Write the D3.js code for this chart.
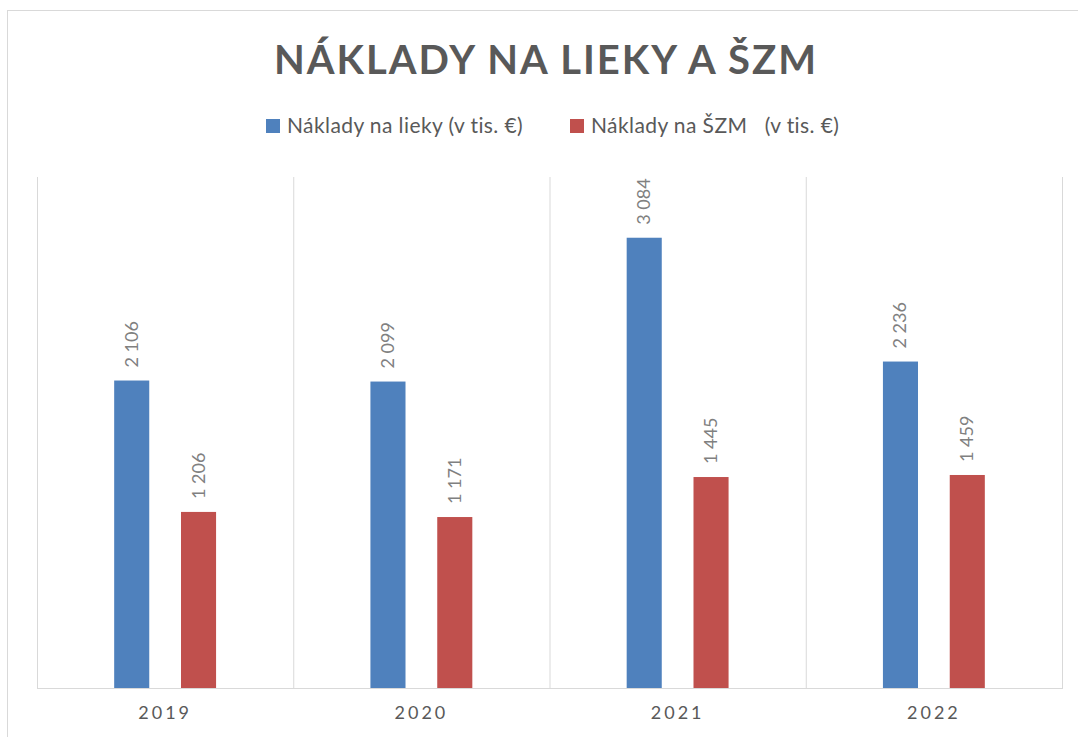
<!DOCTYPE html>
<html>
<head>
<meta charset="utf-8">
<script src="https://cdn.jsdelivr.net/npm/d3@7"></script>
<style>
  body { margin: 0; background: #fff; }
  svg { display: block; font-family: Lato, "Open Sans", sans-serif; }
</style>
</head>
<body>
<div id="chart"></div>
<script>
// data
var years = ['2019', '2020', '2021', '2022'];
var lieky = [2106, 2099, 3084, 2236];
var szm = [1206, 1171, 1445, 1459];
var seriesNames = ['Náklady na lieky (v tis. €)', 'Náklady na ŠZM   (v tis. €)'];
var seriesColors = ['#4f81bd', '#c0504d'];

var W = 1078, H = 737;
var plot = {left: 37, right: 1062, top: 177, bottom: 688};

var svg = d3.select('#chart').append('svg')
    .attr('width', W)
    .attr('height', H);

// outer frame
svg.append('rect')
    .attr('x', 7.5).attr('y', 10.5)
    .attr('width', W + 20).attr('height', H + 20)
    .attr('fill', 'none')
    .attr('stroke', '#d9d9d9');

// title
svg.append('text')
    .attr('x', 546).attr('y', 74)
    .attr('text-anchor', 'middle')
    .attr('font-size', 40)
    .attr('font-weight', 'bold')
    .attr('letter-spacing', 2)
    .attr('fill', '#595959')
    .text('NÁKLADY NA LIEKY A ŠZM');

// legend
var legendX = [266, 570];
var legend = svg.selectAll('g.legend')
    .data(seriesNames)
    .enter().append('g')
    .attr('class', 'legend')
    .attr('transform', function(d, i) { return 'translate(' + legendX[i] + ',119)'; });
legend.append('rect')
    .attr('width', 14).attr('height', 14)
    .attr('fill', function(d, i) { return seriesColors[i]; });
legend.append('text')
    .attr('x', 21).attr('y', 14)
    .attr('font-size', 21)
    .attr('letter-spacing', 0.4)
    .attr('fill', '#595959')
    .style('white-space', 'pre')
    .text(function(d) { return d; });

// scales
var x = d3.scaleBand().domain(years).range([plot.left, plot.right]);
var y = d3.scaleLinear().domain([0, 3500]).range([plot.bottom, plot.top]);
var xs = d3.scaleBand().domain([0, 1]).range([0, x.bandwidth()]).paddingInner(0.475).paddingOuter(1.155);

var fmt = d3.formatLocale({decimal: ',', thousands: ' ', grouping: [3], currency: ['', '€']}).format(',d');

// vertical gridlines between categories
var bounds = years.map(function(d) { return x(d); }).concat([plot.right]);
svg.selectAll('line.grid')
    .data(bounds)
    .enter().append('line')
    .attr('class', 'grid')
    .attr('x1', function(d) { return d + 0.5; })
    .attr('x2', function(d) { return d + 0.5; })
    .attr('y1', plot.top).attr('y2', plot.bottom)
    .attr('stroke', '#d9d9d9');

// bars
var groups = svg.selectAll('g.year')
    .data(years)
    .enter().append('g')
    .attr('class', 'year')
    .attr('transform', function(d) { return 'translate(' + x(d) + ',0)'; });

var bars = groups.selectAll('rect')
    .data(function(d, i) { return [lieky[i], szm[i]]; })
    .enter();

bars.append('rect')
    .attr('x', function(d, i) { return xs(i); })
    .attr('width', xs.bandwidth())
    .attr('y', function(d) { return y(d); })
    .attr('height', function(d) { return plot.bottom - y(d); })
    .attr('fill', function(d, i) { return seriesColors[i]; });

bars.append('text')
    .attr('transform', function(d, i) {
        return 'translate(' + (xs(i) + xs.bandwidth() / 2 + 6) + ',' + (y(d) - 13) + ') rotate(-90)';
    })
    .attr('font-size', 18)
    .attr('fill', '#808080')
    .text(function(d) { return fmt(d); });

// axis line
svg.append('line')
    .attr('x1', plot.left).attr('x2', plot.right + 1)
    .attr('y1', plot.bottom + 0.5).attr('y2', plot.bottom + 0.5)
    .attr('stroke', '#d9d9d9');

var xAxis = svg.append('g')
    .attr('transform', 'translate(0,' + plot.bottom + ')')
    .call(d3.axisBottom(x).tickSize(0).tickPadding(18));
xAxis.select('.domain').remove();
xAxis.selectAll('text')
    .attr('font-size', 18)
    .attr('font-family', 'Lato, sans-serif')
    .attr('letter-spacing', 3)
    .attr('fill', '#595959');
</script>
</body>
</html>
